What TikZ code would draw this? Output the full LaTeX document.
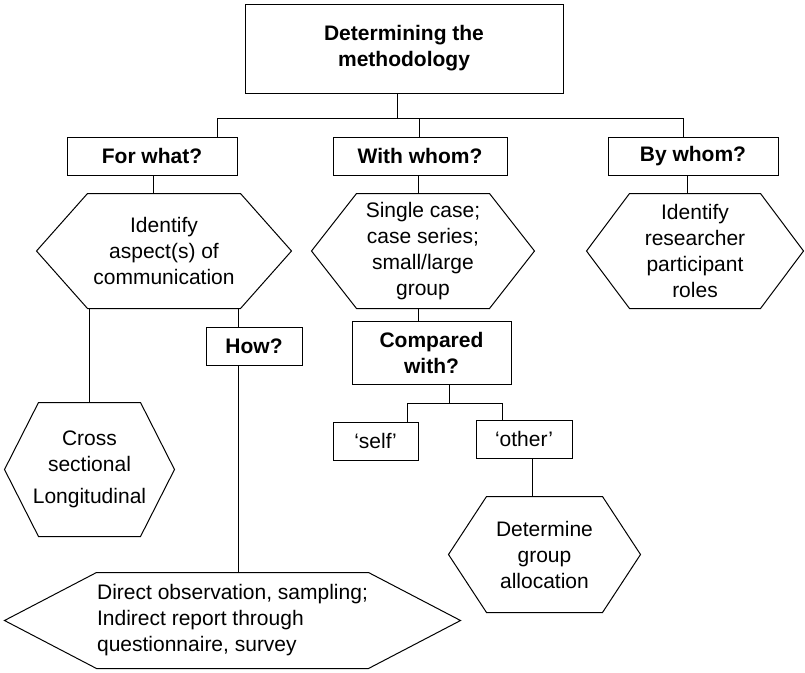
\documentclass[tikz,border=0pt]{standalone}
\usepackage{fontspec}
\setmainfont{Liberation Sans}
\newcommand\hexdraw[2]{\draw (#1.west) -- ([xshift=#2pt]#1.north west) -- ([xshift=-#2pt]#1.north east) -- (#1.east) -- ([xshift=-#2pt]#1.south east) -- ([xshift=#2pt]#1.south west) -- cycle;}
\begin{document}
\begin{tikzpicture}[x=1pt,y=-1pt,line width=1pt,
  txt/.style={font=\fontsize{21}{26}\selectfont},
  qbox/.style={draw,rectangle,inner sep=0pt,align=center,txt,font=\fontsize{21}{26}\selectfont\bfseries},
  pbox/.style={draw,rectangle,inner sep=0pt,align=center,txt},
  hexa/.style={rectangle,inner sep=0pt,align=center,txt}]
\useasboundingbox (0,0) rectangle (805,672);
% boxes
\node[qbox,minimum width=318pt,minimum height=89pt] (top) at (404,48.5) {Determining the\\methodology};
\node[qbox,minimum width=170pt,minimum height=38pt] (forwhat) at (152,156) {For what?};
\node[qbox,minimum width=174pt,minimum height=38pt] (withwhom) at (420,156) {With whom?};
\node[qbox,minimum width=170pt,minimum height=38pt] (bywhom) at (693,156) {By whom?};
\node[qbox,minimum width=96pt,minimum height=38pt] (how) at (254,346) {How?};
\node[qbox,minimum width=159pt,minimum height=63pt] (compared) at (431.5,352.5) {Compared\\with?};
\node[pbox,minimum width=85pt,minimum height=38pt] (self) at (375.5,441) {‘self’};
\node[pbox,minimum width=96pt,minimum height=38pt] (other) at (524,439) {‘other’};
% hexagons
\node[hexa,minimum width=254pt,minimum height=114pt] (idhex) at (164,251) {Identify\\aspect(s) of\\communication};
\hexdraw{idhex}{51}
\node[hexa,minimum width=222pt,minimum height=114pt] (whhex) at (423,251) {Single case;\\case series;\\small/large\\group};
\hexdraw{whhex}{45}
\node[hexa,minimum width=216pt,minimum height=114pt] (byhex) at (695,251) {Identify\\researcher\\participant\\roles};
\hexdraw{byhex}{43}
\node[hexa,minimum width=169pt,minimum height=133pt] (cross) at (89.5,469.5) {Cross\\sectional\\[6pt]Longitudinal};
\hexdraw{cross}{34}
\node[hexa,align=left,minimum width=455pt,minimum height=95pt] (bottom) at (232.5,620.5) {Direct observation, sampling;\\Indirect report through\\questionnaire, survey};
\hexdraw{bottom}{92}
\node[hexa,minimum width=191pt,minimum height=115pt] (det) at (544.5,554.5) {Determine\\group\\allocation};
\hexdraw{det}{38}
% connectors
\draw ([xshift=-7pt]top.south) -- ++(0,25) coordinate (j);
\draw (j) -| ([xshift=65pt]forwhat.north);
\draw (j) -| ([xshift=-1pt]withwhom.north);
\draw (j) -| ([xshift=-10pt]bywhom.north);
\draw ([xshift=1pt]forwhat.south) -- ([xshift=1pt]forwhat.south |- idhex.north);
\draw ([xshift=-2pt]withwhom.south) -- ([xshift=-2pt]withwhom.south |- whhex.north);
\draw ([xshift=-6pt]bywhom.south) -- ([xshift=-6pt]bywhom.south |- byhex.north);
\draw (cross.north |- idhex.south) -- (cross.north);
\coordinate (hx) at ([xshift=-53pt]idhex.south east);
\draw (hx) -- (hx |- how.north);
\draw (hx |- how.south) -- (hx |- bottom.north);
\draw ([xshift=-5pt]whhex.south) -- ([xshift=-5pt]whhex.south |- compared.north);
\draw ([xshift=17.5pt]compared.south) -- ++(0,19) coordinate (k);
\draw (k) -| ([xshift=31.5pt]self.north);
\draw (k) -| ([xshift=-22pt]other.north);
\draw ([xshift=8pt]other.south) -- ([xshift=8pt]other.south |- det.north);
\end{tikzpicture}
\end{document}
